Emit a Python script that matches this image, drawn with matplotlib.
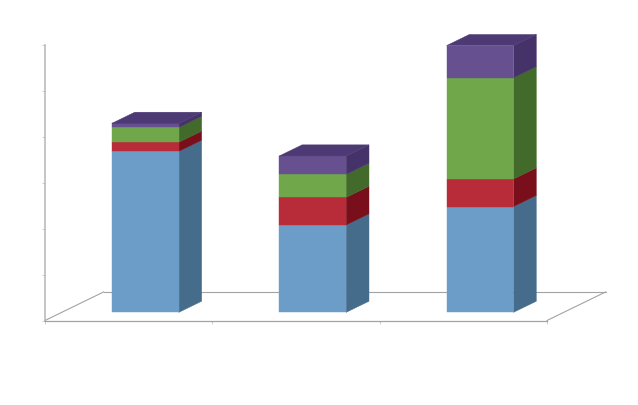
import matplotlib
matplotlib.use("Agg")
import matplotlib.pyplot as plt
from matplotlib.patches import Polygon

categories = [0, 1, 2]
blue_values = [3.5, 1.9, 2.3]
red_values = [0.2, 0.6, 0.6]
green_values = [0.32, 0.5, 2.2]
purple_values = [0.09, 0.4, 0.7]
series = [blue_values, red_values, green_values, purple_values]

front_colors = ["#6c9dc8", "#b82c39", "#70a74a", "#67508f"]
side_colors = ["#466c8b", "#7a0f1c", "#426b2b", "#443268"]
top_color = "#4d3a75"
axis_color = "#a3a3a3"

# oblique depth of the floor, in data units
floor_dx = 0.35
floor_dy = 0.62
bar_width = 0.4
bar_start = 0.285   # where the bar sits in the depth of the floor
bar_depth = 0.39


def depth(x, y, d):
    return (x + floor_dx * d, y + floor_dy * d)


def box(ax, x0, x1, y0, y1, front, side, top=None):
    d0 = bar_start
    d1 = bar_start + bar_depth
    ax.add_patch(Polygon([depth(x1, y0, d0), depth(x1, y0, d1), depth(x1, y1, d1), depth(x1, y1, d0)],
                         facecolor=side, edgecolor=side, linewidth=0.3, clip_on=False, zorder=3))
    ax.add_patch(Polygon([depth(x0, y0, d0), depth(x1, y0, d0), depth(x1, y1, d0), depth(x0, y1, d0)],
                         facecolor=front, edgecolor=front, linewidth=0.3, clip_on=False, zorder=4))
    if top:
        ax.add_patch(Polygon([depth(x0, y1, d0), depth(x1, y1, d0), depth(x1, y1, d1), depth(x0, y1, d1)],
                             facecolor=top, edgecolor=top, linewidth=0.3, clip_on=False, zorder=4))


fig = plt.figure(figsize=(6.38, 4.06), dpi=100)
ax = fig.add_axes([45 / 638, 84.5 / 406, 502 / 638, 276 / 406])
ax.set_xlim(0, 3)
ax.set_ylim(0, 6)
ax.patch.set_visible(False)

# floor outline behind the bars
ax.plot([0, floor_dx], [0, floor_dy], color=axis_color, lw=0.8, clip_on=False, zorder=1)
ax.plot([floor_dx, 3 + floor_dx], [floor_dy, floor_dy], color=axis_color, lw=0.8, clip_on=False, zorder=1)
ax.plot([3, 3 + floor_dx], [0, floor_dy], color=axis_color, lw=0.8, clip_on=False, zorder=1)

for i in categories:
    x0 = i + 0.5 - bar_width / 2
    x1 = i + 0.5 + bar_width / 2
    bottom = 0
    for j, values in enumerate(series):
        is_top = j == len(series) - 1
        box(ax, x0, x1, bottom, bottom + values[i], front_colors[j], side_colors[j],
            top_color if is_top else None)
        bottom += values[i]

for name in ["top", "right"]:
    ax.spines[name].set_visible(False)
ax.spines["left"].set_color("#b5b5b5")
ax.spines["left"].set_linewidth(1.1)
ax.spines["bottom"].set_color(axis_color)
ax.spines["bottom"].set_linewidth(0.9)
ax.set_xticks([0, 1, 2, 3])
ax.set_yticks([0, 1, 2, 3, 4, 5, 6])
ax.tick_params(axis="both", length=2, width=0.6, color="#c4c4c4", labelbottom=False, labelleft=False)

fig.savefig("out.png", dpi=100)
